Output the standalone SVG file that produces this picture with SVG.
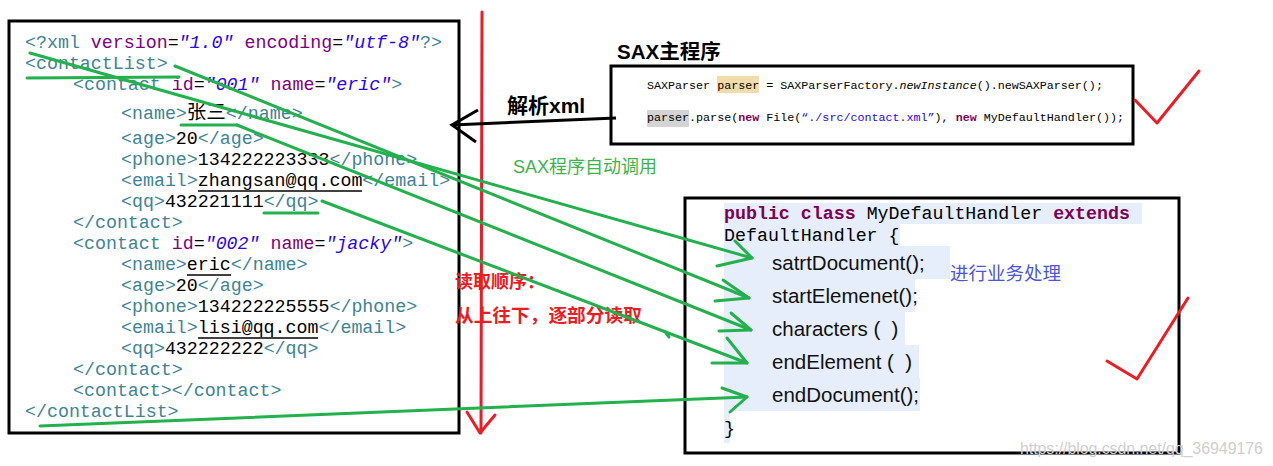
<svg xmlns="http://www.w3.org/2000/svg" width="1273" height="466" viewBox="0 0 1273 466">
<style>
.box{fill:none;stroke:#000;stroke-width:3}
.mono{font-family:"Liberation Mono","Noto Sans CJK SC",monospace;font-size:18.3px;white-space:pre}
.small{font-family:"Liberation Mono","Noto Sans CJK SC",monospace;font-size:11.7px;white-space:pre;fill:#000}
.tag{fill:#3d8496}
.att{fill:#7f007f}
.val{fill:#2a00ff;font-style:italic}
.txt{fill:#000}
.kw{fill:#7f0055;font-weight:bold}
.cjk{font-family:"Noto Sans CJK SC",sans-serif;font-size:19.5px}
.sans{font-family:"Liberation Sans","Noto Sans CJK SC",sans-serif;font-size:20.5px;fill:#111;white-space:pre}
.lbl{font-family:"Liberation Sans","Noto Sans CJK SC",sans-serif}
.green{fill:none;stroke:#22b14c;stroke-width:3;stroke-linecap:round;stroke-linejoin:round}
.red{fill:none;stroke:#ed1c24;stroke-width:3;stroke-linecap:round;stroke-linejoin:round}
.ul{stroke:#000;stroke-width:1.5}
.sel{fill:#e5eefa}
</style>
<rect x="0" y="0" width="1273" height="466" fill="#fff"/>

<g id="xml-document">
<rect class="box" x="9" y="21" width="450" height="412"/>
<text class="mono" x="25" y="48"><tspan class="tag">&lt;?xml</tspan><tspan class="att"> version</tspan><tspan class="txt">=</tspan><tspan class="val">"1.0"</tspan><tspan class="att"> encoding</tspan><tspan class="txt">=</tspan><tspan class="val">"utf-8"</tspan><tspan class="tag">?&gt;</tspan></text>
<text class="mono tag" x="25" y="69">&lt;contactList&gt;</text>
<text class="mono" x="73" y="90"><tspan class="tag">&lt;contact</tspan><tspan class="att"> id</tspan><tspan class="txt">=</tspan><tspan class="val">"001"</tspan><tspan class="att"> name</tspan><tspan class="txt">=</tspan><tspan class="val">"eric"</tspan><tspan class="tag">&gt;</tspan></text>
<text class="mono" x="121" y="119"><tspan class="tag">&lt;name&gt;</tspan><tspan class="txt cjk">张三</tspan><tspan class="tag">&lt;/name&gt;</tspan></text>
<text class="mono" x="121" y="144"><tspan class="tag">&lt;age&gt;</tspan><tspan class="txt">20</tspan><tspan class="tag">&lt;/age&gt;</tspan></text>
<text class="mono" x="121" y="165"><tspan class="tag">&lt;phone&gt;</tspan><tspan class="txt">134222223333</tspan><tspan class="tag">&lt;/phone&gt;</tspan></text>
<text class="mono" x="121" y="186"><tspan class="tag">&lt;email&gt;</tspan><tspan class="txt">zhangsan@qq.com</tspan><tspan class="tag">&lt;/email&gt;</tspan></text>
<line class="ul" x1="198" y1="191" x2="362" y2="191"/>
<text class="mono" x="121" y="207"><tspan class="tag">&lt;qq&gt;</tspan><tspan class="txt">432221111</tspan><tspan class="tag">&lt;/qq&gt;</tspan></text>
<text class="mono tag" x="73" y="228">&lt;/contact&gt;</text>
<text class="mono" x="73" y="249"><tspan class="tag">&lt;contact</tspan><tspan class="att"> id</tspan><tspan class="txt">=</tspan><tspan class="val">"002"</tspan><tspan class="att"> name</tspan><tspan class="txt">=</tspan><tspan class="val">"jacky"</tspan><tspan class="tag">&gt;</tspan></text>
<text class="mono" x="121" y="270"><tspan class="tag">&lt;name&gt;</tspan><tspan class="txt">eric</tspan><tspan class="tag">&lt;/name&gt;</tspan></text>
<line class="ul" x1="187" y1="275" x2="231" y2="275"/>
<text class="mono" x="121" y="291"><tspan class="tag">&lt;age&gt;</tspan><tspan class="txt">20</tspan><tspan class="tag">&lt;/age&gt;</tspan></text>
<text class="mono" x="121" y="312"><tspan class="tag">&lt;phone&gt;</tspan><tspan class="txt">134222225555</tspan><tspan class="tag">&lt;/phone&gt;</tspan></text>
<text class="mono" x="121" y="333"><tspan class="tag">&lt;email&gt;</tspan><tspan class="txt">lisi@qq.com</tspan><tspan class="tag">&lt;/email&gt;</tspan></text>
<line class="ul" x1="198" y1="338" x2="318" y2="338"/>
<text class="mono" x="121" y="354"><tspan class="tag">&lt;qq&gt;</tspan><tspan class="txt">432222222</tspan><tspan class="tag">&lt;/qq&gt;</tspan></text>
<text class="mono tag" x="73" y="375">&lt;/contact&gt;</text>
<text class="mono tag" x="73" y="396">&lt;contact&gt;&lt;/contact&gt;</text>
<text class="mono tag" x="25" y="417">&lt;/contactList&gt;</text>
</g>

<g id="sax-main">
<text class="lbl" x="617" y="59" font-size="20.5" font-weight="bold" fill="#000">SAX主程序</text>
<rect class="box" x="611" y="66" width="522" height="78"/>
<rect x="717" y="76" width="42" height="17" fill="#f2dcaa"/>
<rect x="647" y="110" width="42" height="17" fill="#d4d4d4"/>
<text class="small" x="647" y="89">SAXParser parser = SAXParserFactory.<tspan font-style="italic">newInstance</tspan>().newSAXParser();</text>
<text class="small" x="647" y="121">parser.parse(<tspan class="kw">new</tspan> File(<tspan fill="#2a00ff">“./src/contact.xml”</tspan>), <tspan class="kw">new</tspan> MyDefaultHandler());</text>
</g>

<g id="handler">
<rect class="box" x="685" y="198" width="494" height="255"/>
<rect class="sel" x="724" y="203" width="418" height="21"/>
<rect class="sel" x="724" y="224" width="176" height="22"/>
<rect class="sel" x="724" y="246" width="226" height="33"/>
<rect class="sel" x="724" y="279" width="191" height="33"/>
<rect class="sel" x="724" y="312" width="181" height="33"/>
<rect class="sel" x="724" y="345" width="195" height="33"/>
<rect class="sel" x="724" y="378" width="196" height="33"/>
<rect class="sel" x="724" y="411" width="6" height="32"/>
<text class="mono" x="724" y="219"><tspan class="kw">public class</tspan><tspan class="txt"> MyDefaultHandler </tspan><tspan class="kw">extends</tspan></text>
<text class="mono txt" x="724" y="241">DefaultHandler {</text>
<text class="sans" x="772" y="270">satrtDocument();</text>
<text class="sans" x="772" y="303">startElemenet();</text>
<text class="sans" x="772" y="336">characters (  )</text>
<text class="sans" x="772" y="369">endElement (  )</text>
<text class="sans" x="772" y="402">endDocument();</text>
<text class="mono txt" x="724" y="434">}</text>
</g>

<g id="labels">
<text class="lbl" x="507" y="113" font-size="21" font-weight="bold" fill="#000">解析xml</text>
<text class="lbl" x="513" y="173" font-size="18" fill="#3cb44b">SAX程序自动调用</text>
<text class="lbl" x="455" y="288" font-size="18" font-weight="bold" fill="#ed1c24">读取顺序：</text>
<text class="lbl" x="455" y="322" font-size="18.7" font-weight="bold" fill="#ed1c24">从上往下，逐部分读取</text>
<text class="lbl" x="950" y="280" font-size="18.5" fill="#4b55e0">进行业务处理</text>
<text class="lbl" x="1020" y="454" font-size="16" fill="#cfcfcf" textLength="243">https://blog.csdn.net/qq_36949176</text>
</g>

<g id="connectors">
<line class="red" x1="482" y1="12" x2="481" y2="433" stroke-width="2.5"/>
<polyline class="red" points="467,412 480,433 495,415"/>
<line x1="616" y1="118" x2="452" y2="125" stroke="#000" stroke-width="3"/>
<polyline points="478,110 452,125 476,142" fill="none" stroke="#000" stroke-width="3"/>
<line class="green" x1="27" y1="78" x2="179" y2="77"/>
<line class="green" x1="181" y1="125" x2="237" y2="125"/>
<line class="green" x1="264" y1="213" x2="318" y2="213"/>
<line class="green" x1="30" y1="53" x2="752" y2="258"/>
<line class="green" x1="175" y1="66" x2="749" y2="298"/>
<line class="green" x1="237" y1="125" x2="751" y2="330"/>
<line class="green" x1="322" y1="201" x2="747" y2="363"/>
<line class="green" x1="40" y1="426" x2="747" y2="397"/>
<line class="green" x1="666" y1="333" x2="669" y2="337"/>
<polyline class="green" points="735,241 752,258 717,266"/>
<polyline class="green" points="723,280 749,298 715,301"/>
<polyline class="green" points="731,313 751,330 719,331"/>
<polyline class="green" points="727,338 747,363 712,363"/>
<polyline class="green" points="722,388 747,397 730,412"/>
<polyline class="red" points="1135,100 1157,123 1199,71"/>
<polyline class="red" points="1107,361 1137,379 1188,298"/>
</g>
</svg>
